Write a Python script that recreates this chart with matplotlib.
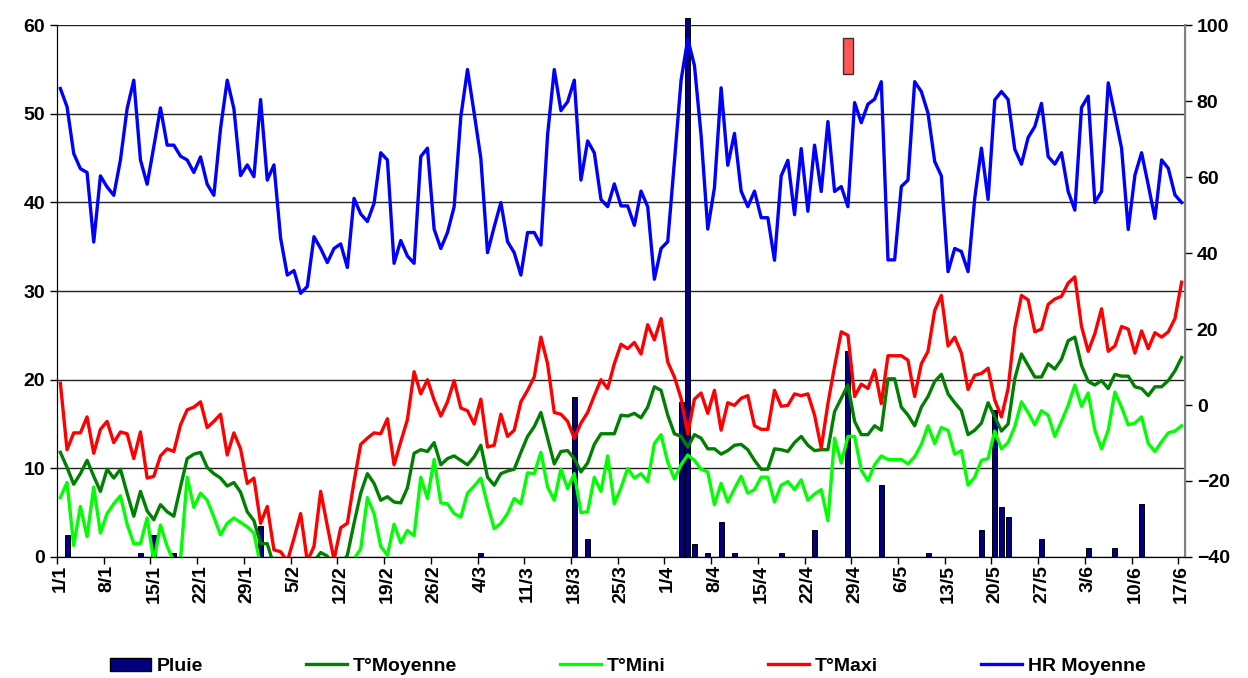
import datetime as dt
import numpy as np
import matplotlib
matplotlib.use("Agg")
import matplotlib.pyplot as plt
from matplotlib.patches import Rectangle
from matplotlib.lines import Line2D

plt.rcParams['font.family'] = ['Liberation Sans', 'DejaVu Sans']
plt.rcParams['font.weight'] = 'bold'

# daily categories, 1/1 -> 17/6 (leap year)
start = dt.date(2008, 1, 1)
days = [start + dt.timedelta(days=i) for i in range(169)]
day_labels = [f"{d.day}/{d.month}" for d in days]

# rain (mm) - only the days with rain
rain_idx = [1, 12, 14, 17, 30, 63, 77, 79, 93, 94, 95, 97, 99, 101, 108, 113,
            118, 123, 130, 138, 140, 141, 142, 147, 154, 158, 162]
rain_mm = [2.5, 0.5, 2.5, 0.5, 3.5, 0.5, 18.1, 2.0, 17.5, 60.8, 1.5, 0.5, 4.0, 0.5, 0.5, 3.0,
           23.2, 8.1, 0.5, 3.0, 16.6, 5.6, 4.5, 2.0, 1.0, 1.0, 6.0]

t_moy = [11.8, 10.1, 8.2, 9.4, 10.9, 9.1, 7.4, 9.9, 8.9, 9.9, 7.2, 4.6, 7.4, 5.2, 4.2, 5.9,
         5.1, 4.6, 7.9, 11.1, 11.6, 11.8, 10.1, 9.4, 8.9, 8.0, 8.4, 7.3, 5.1, 4.1, 1.5, 1.5,
         -1, -2, -3, -2, -1.5, -2, -0.5, 0.5, 0.1, -1.5, -1, 0.2, 3.8, 7.2, 9.4, 8.3,
         6.4, 6.8, 6.2, 6.1, 7.8, 11.7, 12.1, 11.9, 12.9, 10.4, 11.1, 11.4, 10.9, 10.4, 11.3, 12.6,
         9.0, 8.1, 9.4, 9.7, 9.9, 11.8, 13.6, 14.7, 16.3, 13.4, 10.5, 11.9, 12.0, 11.1, 9.6, 10.6,
         12.7, 13.9, 13.9, 13.9, 16.0, 15.9, 16.2, 15.7, 16.9, 19.2, 18.8, 16.0, 13.9, 13.6, 12.4, 13.8,
         13.4, 12.2, 12.2, 11.6, 12.0, 12.6, 12.7, 12.1, 10.9, 9.9, 9.9, 12.2, 12.1, 11.9, 12.9, 13.6,
         12.6, 12.0, 12.1, 12.1, 16.4, 17.9, 19.4, 15.3, 13.8, 13.8, 14.8, 14.3, 20.1, 20.1, 16.9, 16.0,
         14.8, 16.9, 18.1, 19.8, 20.6, 18.4, 17.4, 16.5, 13.8, 14.3, 15.1, 17.4, 15.8, 14.2, 15.0, 20.1,
         22.9, 21.6, 20.3, 20.3, 21.8, 21.2, 22.3, 24.4, 24.8, 21.6, 19.8, 19.4, 19.9, 19.0, 20.6, 20.4,
         20.4, 19.2, 19.0, 18.2, 19.2, 19.2, 19.9, 21.0, 22.5]

t_mini = [6.7, 8.4, 1.3, 5.7, 2.3, 7.9, 2.7, 4.9, 6.0, 6.9, 3.7, 1.5, 1.5, 4.4, -0.5, 3.6,
          1.2, -0.5, -0.3, 9.0, 5.6, 7.2, 6.4, 4.5, 2.5, 3.8, 4.4, 3.9, 3.4, 2.7, -1, -3,
          -4, -5, -6, -5, -4, -6, -4, -2, -3, -5, -4, -2, -0.2, 0.9, 6.7, 4.9,
          1.2, 0.2, 3.7, 1.6, 3.0, 2.4, 9.0, 6.6, 11.0, 6.1, 6.0, 4.9, 4.5, 7.2, 8.0, 8.9,
          5.9, 3.2, 3.8, 4.9, 6.6, 6.0, 9.5, 9.4, 11.8, 7.9, 6.4, 9.9, 7.7, 9.4, 5.0, 5.1,
          9.0, 7.4, 11.4, 6.0, 7.8, 10.0, 8.9, 9.4, 8.5, 12.8, 13.8, 10.7, 8.8, 10.4, 11.5, 10.9,
          9.9, 9.6, 5.9, 8.3, 6.2, 7.7, 9.1, 7.2, 7.6, 9.0, 9.0, 6.2, 8.1, 8.5, 7.6, 8.7,
          6.4, 7.1, 7.6, 4.1, 13.4, 10.6, 13.6, 13.6, 9.8, 8.6, 10.4, 11.4, 11.0, 11.0, 11.0, 10.5,
          11.3, 12.7, 14.8, 12.8, 14.6, 14.3, 11.6, 12.0, 8.1, 9.0, 10.9, 11.1, 14.2, 12.2, 12.9, 14.7,
          17.5, 16.3, 14.9, 16.5, 16.0, 13.6, 15.3, 17.1, 19.4, 17.0, 18.5, 14.3, 12.2, 14.3, 18.6, 16.9,
          14.9, 15.1, 15.8, 12.8, 11.9, 13.0, 14.0, 14.2, 14.8]

t_maxi = [19.6, 12.1, 14.0, 14.0, 15.8, 11.7, 14.4, 15.3, 12.9, 14.1, 13.9, 11.1, 14.1, 8.9, 9.1, 11.4,
          12.2, 11.9, 14.9, 16.6, 16.9, 17.5, 14.6, 15.3, 16.1, 11.5, 14.0, 12.2, 8.3, 8.9, 3.8, 5.7,
          0.8, 0.6, -0.5, 2.1, 4.9, -0.5, 1.2, 7.4, 3.5, -0.3, 3.3, 3.8, 8.5, 12.7, 13.4, 14.0,
          13.9, 15.6, 10.4, 13.0, 15.5, 20.9, 18.4, 20.0, 17.7, 15.9, 17.5, 19.9, 16.8, 16.5, 15.0, 17.8,
          12.4, 12.6, 16.1, 13.6, 14.3, 17.5, 18.8, 20.3, 24.8, 21.8, 16.3, 16.1, 15.3, 13.4, 15.1, 16.3,
          18.2, 20.0, 19.0, 21.8, 24.0, 23.5, 24.2, 22.9, 26.2, 24.5, 26.9, 22.0, 20.3, 17.9, 13.9, 17.8,
          18.5, 16.2, 18.8, 14.3, 17.4, 17.1, 17.9, 18.2, 14.8, 14.4, 14.4, 18.8, 17.0, 17.1, 18.4, 18.2,
          18.4, 16.0, 12.3, 17.3, 21.5, 25.4, 25.0, 18.1, 19.5, 19.0, 21.1, 17.3, 22.7, 22.7, 22.7, 22.2,
          18.1, 21.8, 23.2, 27.8, 29.5, 23.8, 24.8, 23.0, 18.9, 20.5, 20.7, 21.3, 17.7, 15.8, 19.0, 25.8,
          29.5, 29.0, 25.4, 25.7, 28.5, 29.1, 29.4, 30.9, 31.6, 26.0, 23.2, 25.2, 28.0, 23.2, 23.8, 26.0,
          25.7, 23.0, 25.5, 23.5, 25.3, 24.8, 25.4, 26.9, 31.0]

hr_moy = [83.3, 78.5, 66.2, 62.2, 61.2, 42.9, 60.3, 57.4, 55.2, 64.5, 78.0, 85.5, 64.5, 58.1, 68.0, 78.2,
          68.4, 68.4, 65.5, 64.5, 61.2, 65.3, 58.1, 55.2, 72.8, 85.5, 78.0, 60.4, 63.2, 60.1, 80.4, 59.2,
          63.2, 43.9, 34.2, 35.4, 29.4, 31.2, 44.3, 41.2, 37.5, 41.2, 42.4, 36.2, 54.4, 50.3, 48.3, 53.1,
          66.4, 64.5, 37.3, 43.3, 39.2, 37.3, 65.4, 67.6, 46.3, 41.2, 45.4, 52.2, 75.9, 88.3, 76.8, 64.9,
          40.1, 46.9, 53.3, 43.0, 40.1, 34.2, 45.4, 45.4, 42.1, 71.1, 88.3, 77.5, 79.8, 85.5, 59.2, 69.5,
          66.4, 54.1, 52.2, 58.2, 52.4, 52.4, 47.3, 56.3, 52.2, 33.1, 41.2, 43.0, 64.0, 85.5, 96.3, 89.4,
          71.0, 46.3, 57.2, 83.5, 63.1, 71.5, 56.3, 52.2, 56.3, 49.3, 49.3, 38.1, 60.3, 64.4, 50.1, 67.5,
          51.0, 68.4, 56.2, 74.6, 56.2, 57.5, 52.2, 79.6, 74.3, 79.2, 80.5, 85.1, 38.2, 38.2, 57.5, 59.2,
          85.1, 82.5, 76.8, 64.1, 60.3, 35.1, 41.2, 40.4, 35.1, 54.4, 67.6, 54.1, 80.3, 82.5, 80.4, 67.3,
          63.4, 70.4, 73.3, 79.4, 65.4, 63.4, 66.4, 56.2, 51.3, 78.3, 81.3, 53.3, 56.2, 84.8, 76.3, 67.6,
          46.2, 60.5, 66.4, 57.9, 49.1, 64.5, 62.3, 55.3, 53.3]

x = np.arange(len(days))

fig = plt.figure(figsize=(12.48, 6.78), dpi=100)
ax = fig.add_axes([0.0457, 0.1785, 0.9038, 0.7845])

ax.set_axisbelow(True)
ax.grid(axis='y', color='#222222', lw=1.0)
ax.bar(rain_idx, rain_mm, width=0.75, color='#000080', edgecolor='black', lw=0.7,
       zorder=2, clip_on=False)
ax.plot(x, t_moy, color='#008000', lw=2.4, zorder=3)
ax.plot(x, t_mini, color='#00FF00', lw=2.4, zorder=3)
ax.plot(x, t_maxi, color='#FF0000', lw=2.4, zorder=3)

ax.set_xlim(-0.5, len(days) - 0.5)
ax.set_ylim(0, 60)
ax.set_yticks(range(0, 61, 10))
ax.set_xticks(x[::7])
ax.set_xticklabels(day_labels[::7], rotation=90, fontsize=14, fontweight='bold')
ax.set_xticks(np.arange(-0.5, len(days), 7), minor=True)
ax.tick_params(axis='x', which='major', length=0, pad=6)
ax.tick_params(axis='x', which='minor', length=5, width=1)
ax.tick_params(axis='y', labelsize=14, length=5, width=1)
ax.spines['top'].set_visible(False)

# small red box near the top of the plot
ax.add_patch(Rectangle((117.3, 54.5), 1.5, 4.0, facecolor='#FF5555',
                       edgecolor='#333333', lw=1, zorder=4))

ax2 = ax.twinx()
ax2.plot(x, hr_moy, color='#0000FF', lw=2.4)
ax2.set_ylim(-40, 100)
ax2.set_yticks(range(-40, 101, 20))
ax2.tick_params(axis='y', labelsize=14, length=5, width=1)
ax2.spines['top'].set_visible(False)
ax2.spines['right'].set_color('#808080')
ax2.spines['right'].set_linewidth(1.5)

handles = [
    Rectangle((0, 0), 1, 1, facecolor='#000080', edgecolor='black'),
    Line2D([], [], color='#008000', lw=2.4),
    Line2D([], [], color='#00FF00', lw=2.4),
    Line2D([], [], color='#FF0000', lw=2.4),
    Line2D([], [], color='#0000FF', lw=2.4),
]
names = ['Pluie', 'T°Moyenne', 'T°Mini', 'T°Maxi', 'HR Moyenne']
fig.legend(handles, names, loc='center left', bbox_to_anchor=(0.088, 0.017), ncol=5,
           frameon=False, handlelength=2.1, handletextpad=0.3, columnspacing=5.3,
           borderaxespad=0, borderpad=0, prop={'weight': 'bold', 'size': 14})

fig.savefig('out.png', dpi=100)
